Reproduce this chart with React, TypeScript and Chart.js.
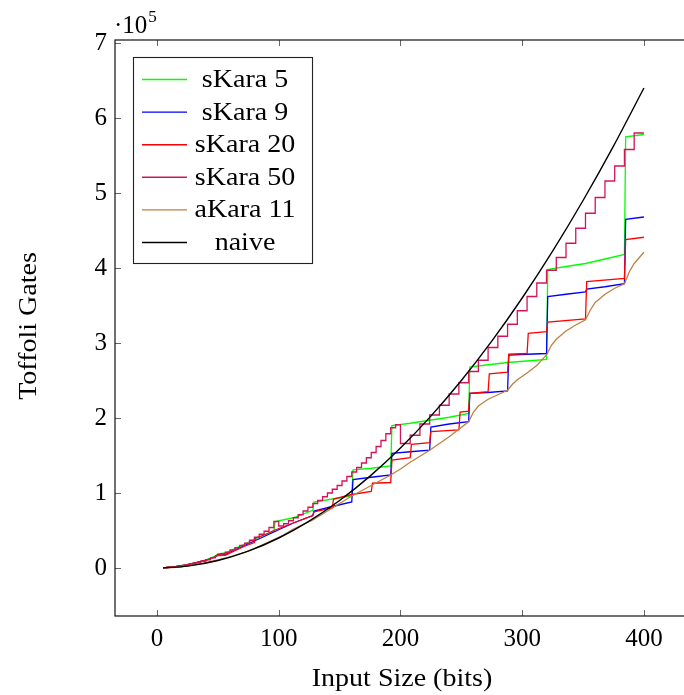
import React, { useEffect, useRef } from "react";
import { Chart, registerables } from "chart.js";
Chart.register(...registerables);

const seriesLabels = ["sKara 5", "sKara 9", "sKara 20", "sKara 50", "aKara 11", "naive"];
const seriesColors = ["#00ff00", "#0000ff", "#ff0000", "#d4145a", "#bf8040", "#000000"];

const xTicks = [0, 100, 200, 300, 400];
const yTicks = [0, 1, 2, 3, 4, 5, 6, 7];

// values in units of 10^5 Toffoli gates
const sKara5X = [5, 16, 24, 32, 40, 48, 50, 56, 64, 72, 80, 88, 96, 97, 112, 128, 129, 144, 160, 161, 176, 192, 193, 208, 224, 240, 256, 257, 272, 288, 304, 320, 321, 336, 352, 368, 384, 385, 400];
const sKara5Y = [0, 0.02, 0.04, 0.07, 0.11, 0.16, 0.19, 0.2, 0.26, 0.32, 0.38, 0.44, 0.49, 0.62, 0.67, 0.77, 0.88, 0.92, 0.96, 1.31, 1.33, 1.36, 1.9, 1.93, 1.97, 2.01, 2.06, 2.68, 2.71, 2.74, 2.76, 2.78, 3.98, 4.02, 4.06, 4.12, 4.18, 5.75, 5.78];

const sKara9X = [5, 16, 24, 32, 40, 48, 50, 56, 64, 72, 80, 88, 96, 112, 128, 129, 144, 160, 161, 176, 192, 193, 208, 224, 225, 240, 256, 257, 272, 288, 289, 304, 320, 321, 336, 352, 353, 368, 384, 385, 400];
const sKara9Y = [0, 0.02, 0.04, 0.07, 0.1, 0.15, 0.17, 0.18, 0.24, 0.3, 0.36, 0.42, 0.48, 0.6, 0.7, 0.76, 0.82, 0.88, 1.18, 1.21, 1.24, 1.53, 1.55, 1.57, 1.88, 1.92, 1.95, 2.33, 2.34, 2.36, 2.84, 2.85, 2.86, 3.62, 3.65, 3.68, 3.72, 3.75, 3.79, 4.65, 4.68];

const sKara20X = [5, 16, 24, 32, 40, 48, 50, 56, 64, 72, 80, 81, 88, 96, 112, 128, 129, 144, 145, 160, 176, 177, 192, 193, 208, 209, 224, 225, 248, 249, 256, 257, 272, 273, 288, 289, 304, 305, 320, 321, 352, 353, 384, 385, 400];
const sKara20Y = [0, 0.02, 0.04, 0.07, 0.1, 0.15, 0.18, 0.17, 0.23, 0.29, 0.34, 0.4, 0.44, 0.5, 0.6, 0.7, 0.75, 0.8, 0.92, 0.98, 1.02, 1.13, 1.14, 1.44, 1.47, 1.65, 1.67, 1.82, 1.84, 2.08, 2.09, 2.33, 2.35, 2.59, 2.61, 2.85, 2.86, 3.13, 3.15, 3.28, 3.32, 3.82, 3.86, 4.38, 4.41];

// sKara 50: staircase, each level starts at the given bit size
const sKara50X = [5, 8, 12, 16, 20, 24, 28, 32, 36, 40, 44, 48, 52, 56, 60, 64, 68, 72, 76, 80, 84, 88, 92, 96, 100, 104, 108, 112, 116, 120, 124, 128, 132, 136, 140, 144, 148, 152, 156, 160, 164, 168, 172, 176, 180, 184, 188, 192, 196, 200, 208, 216, 224, 232, 240, 248, 256, 264, 272, 280, 288, 296, 304, 312, 320, 328, 336, 344, 352, 360, 368, 376, 384, 392, 400];
const sKara50Y = [0, 0.01, 0.015, 0.02, 0.03, 0.04, 0.055, 0.07, 0.09, 0.11, 0.135, 0.165, 0.19, 0.21, 0.24, 0.27, 0.3, 0.33, 0.37, 0.41, 0.45, 0.49, 0.54, 0.62, 0.56, 0.59, 0.63, 0.67, 0.71, 0.76, 0.81, 0.86, 0.9, 0.95, 1.0, 1.05, 1.1, 1.16, 1.22, 1.28, 1.34, 1.4, 1.47, 1.54, 1.62, 1.7, 1.79, 1.87, 1.91, 1.66, 1.77, 1.92, 2.04, 2.17, 2.32, 2.47, 2.62, 2.77, 2.94, 3.09, 3.25, 3.43, 3.62, 3.8, 3.97, 4.14, 4.33, 4.53, 4.73, 4.94, 5.16, 5.36, 5.58, 5.8, 5.8];

const aKara11X = [5, 16, 24, 32, 40, 48, 56, 64, 72, 80, 88, 96, 104, 112, 120, 128, 136, 144, 152, 160, 168, 176, 184, 192, 200, 208, 216, 224, 232, 240, 248, 256, 260, 264, 272, 280, 288, 292, 296, 304, 312, 320, 324, 328, 336, 344, 352, 356, 360, 368, 376, 384, 388, 392, 400];
const aKara11Y = [0, 0.01, 0.025, 0.045, 0.07, 0.1, 0.13, 0.17, 0.21, 0.26, 0.32, 0.38, 0.44, 0.52, 0.58, 0.64, 0.72, 0.8, 0.88, 0.96, 1.03, 1.1, 1.17, 1.24, 1.32, 1.41, 1.49, 1.57, 1.66, 1.75, 1.85, 1.95, 2.08, 2.16, 2.25, 2.31, 2.37, 2.45, 2.51, 2.6, 2.7, 2.84, 2.97, 3.05, 3.16, 3.24, 3.31, 3.44, 3.54, 3.65, 3.73, 3.79, 3.95, 4.06, 4.21];

const naiveX = [5, 25, 50, 75, 100, 125, 150, 175, 200, 225, 250, 275, 300, 325, 350, 375, 400];
const naiveY = [0.001, 0.025, 0.1, 0.225, 0.4, 0.625, 0.9, 1.225, 1.6, 2.025, 2.5, 3.025, 3.6, 4.225, 4.9, 5.625, 6.4];

const seriesX = [sKara5X, sKara9X, sKara20X, sKara50X, aKara11X, naiveX];
const seriesY = [sKara5Y, sKara9Y, sKara20Y, sKara50Y, aKara11Y, naiveY];

const FONT = "'Liberation Serif', 'Times New Roman', serif";
const STRETCH = 1.12;

function wideText(ctx: any, text: string, x: number, y: number, align: "center" | "left") {
  ctx.save();
  ctx.translate(x, y);
  ctx.scale(STRETCH, 1);
  ctx.textAlign = align;
  ctx.fillText(text, 0, 0);
  ctx.restore();
}

const decorPlugin = {
  id: "decor",
  afterDraw(chart: any) {
    const { ctx, chartArea: a, scales } = chart;
    const xs = scales.x;
    const ys = scales.y;
    ctx.save();
    // tick marks (inward, all four sides)
    ctx.strokeStyle = "#666";
    ctx.lineWidth = 1;
    ctx.beginPath();
    xTicks.forEach((t) => {
      const px = Math.round(xs.getPixelForValue(t)) + 0.5;
      ctx.moveTo(px, a.bottom);
      ctx.lineTo(px, a.bottom - 6);
      ctx.moveTo(px, a.top);
      ctx.lineTo(px, a.top + 6);
    });
    yTicks.forEach((t) => {
      const py = Math.round(ys.getPixelForValue(t)) + 0.5;
      ctx.moveTo(a.left, py);
      ctx.lineTo(a.left + 6, py);
      ctx.moveTo(a.right, py);
      ctx.lineTo(a.right - 6, py);
    });
    ctx.stroke();
    // frame
    ctx.strokeStyle = "#111";
    ctx.lineWidth = 1.2;
    ctx.strokeRect(a.left, a.top, a.right - a.left, a.bottom - a.top);

    // legend
    const lx = 133.5, ly = 57.5, lw = 179, lh = 206;
    ctx.fillStyle = "#fff";
    ctx.fillRect(lx, ly, lw, lh);
    ctx.strokeStyle = "#222";
    ctx.lineWidth = 1.1;
    ctx.strokeRect(lx, ly, lw, lh);
    ctx.font = `25px ${FONT}`;
    ctx.textBaseline = "alphabetic";
    chart.data.datasets.forEach((ds: any, i: number) => {
      const base = 87 + i * 32.6;
      ctx.strokeStyle = ds.borderColor;
      ctx.lineWidth = 1.4;
      ctx.beginPath();
      ctx.moveTo(142, base - 7.5);
      ctx.lineTo(187, base - 7.5);
      ctx.stroke();
      ctx.fillStyle = "#000";
      wideText(ctx, ds.label, 245, base, "center");
    });

    // axis titles
    ctx.fillStyle = "#000";
    ctx.font = `25px ${FONT}`;
    wideText(ctx, "Input Size (bits)", 402, 686, "center");
    ctx.save();
    ctx.translate(36, 326);
    ctx.rotate(-Math.PI / 2);
    wideText(ctx, "Toffoli Gates", 0, 0, "center");
    ctx.restore();
    // scale factor label
    ctx.font = `25px ${FONT}`;
    ctx.textAlign = "left";
    ctx.fillText("\u00b710", 114, 33);
    const w = ctx.measureText("\u00b710").width;
    ctx.font = `17px ${FONT}`;
    ctx.fillText("5", 114 + w + 1, 22);
    ctx.restore();
  },
};

export default function App() {
  const ref = useRef<HTMLCanvasElement | null>(null);
  useEffect(() => {
    if (!ref.current) return;
    const n = seriesLabels.length;
    const datasets = seriesLabels.map((label, i) => ({
      label,
      data: seriesX[i].map((x, j) => ({ x, y: seriesY[i][j] })),
      borderColor: seriesColors[i],
      backgroundColor: seriesColors[i],
      borderWidth: i === 5 ? 1.4 : 1.3,
      pointRadius: 0,
      fill: false,
      tension: 0,
      stepped: i === 3 ? ("before" as any) : false,
      cubicInterpolationMode: i === 5 ? ("monotone" as any) : ("default" as any),
      order: n - i,
    }));
    const chart = new Chart(ref.current, {
      type: "line",
      data: { datasets },
      options: {
        responsive: false,
        animation: false,
        devicePixelRatio: 1,
        layout: { padding: { top: 40, right: 8, left: 0, bottom: 0 } },
        plugins: { legend: { display: false }, tooltip: { enabled: false } },
        scales: {
          x: {
            type: "linear",
            min: -34.5,
            max: 439.5,
            afterFit: (s: any) => {
              s.height = 79;
            },
            afterBuildTicks: (s: any) => {
              s.ticks = xTicks.map((v) => ({ value: v }));
            },
            grid: { display: false, drawTicks: false },
            border: { display: false },
            ticks: {
              padding: 8,
              color: "#000",
              maxRotation: 0,
              autoSkip: false,
              font: { family: FONT, size: 25 },
              callback: (v: any) => String(v),
            },
          },
          y: {
            type: "linear",
            min: -0.64,
            max: 7.04,
            afterFit: (s: any) => {
              s.width = 115;
            },
            afterBuildTicks: (s: any) => {
              s.ticks = yTicks.map((v) => ({ value: v }));
            },
            grid: { display: false, drawTicks: false },
            border: { display: false },
            ticks: {
              padding: 8,
              color: "#000",
              autoSkip: false,
              font: { family: FONT, size: 25 },
              callback: (v: any) => String(v),
            },
          },
        },
      },
      plugins: [decorPlugin],
    });
    return () => chart.destroy();
  }, []);
  return (
    <div style={{ position: "fixed", left: 0, top: 0, width: 684, height: 695, overflow: "hidden", background: "#fff" }}>
      <canvas ref={ref} width={700} height={695} style={{ display: "block", width: 700, height: 695 }} />
    </div>
  );
}
